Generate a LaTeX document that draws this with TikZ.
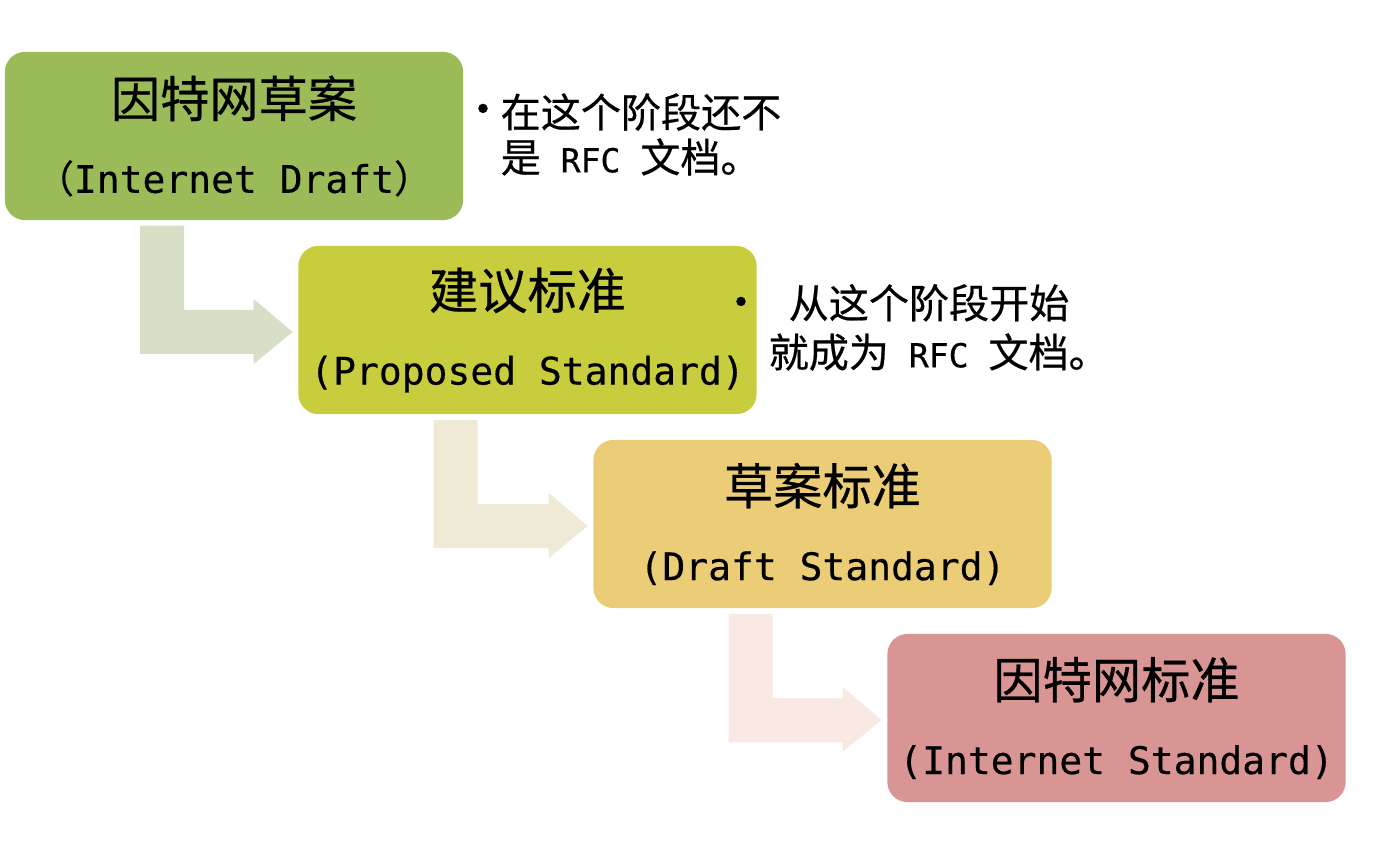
\documentclass[tikz,border=0pt]{standalone}
\usepackage{fontspec}
\setmainfont[FakeBold=0.4]{DejaVu Sans Mono}
\newfontfamily\cjk[FakeBold=0.5]{Noto Sans CJK SC}
\usetikzlibrary{positioning, calc}
\definecolor{draftgreen}{RGB}{155,187,89}
\definecolor{proposedlime}{RGB}{200,205,61}
\definecolor{dstdgold}{RGB}{235,205,120}
\definecolor{istdrose}{RGB}{217,149,148}
\definecolor{arrowgreen}{RGB}{215,224,198}
\definecolor{arrowgold}{RGB}{238,234,213}
\definecolor{arrowpink}{RGB}{249,233,229}
\newcommand{\rfcword}{{\normalfont\fontsize{9.4pt}{12pt}\selectfont\ RFC\ }}

\begin{document}
\begin{tikzpicture}[x=0.01cm, y=-0.01cm,
    stage/.style={rounded corners=0.2cm, minimum width=4.58cm, minimum height=1.68cm,
        align=center, inner sep=0pt, font=\fontsize{10.8pt}{21.5pt}\selectfont},
    note/.style={align=left, anchor=west, inner sep=0pt, font=\cjk\fontsize{11.4pt}{12.8pt}\selectfont},
    dot/.style={inner sep=0pt, font=\normalfont\fontsize{9pt}{9pt}\selectfont}]
    \useasboundingbox (0,0) rectangle (1385,852);

    % Stage boxes
    \node[stage, fill=draftgreen] (draft) at (234,136)
        {{\cjk\fontsize{14pt}{21.5pt}\selectfont 因特网草案}\\{\cjk （}Internet Draft{\cjk ）}};
    \node[stage, fill=proposedlime] (proposed) at (527.5,330)
        {{\cjk\fontsize{14pt}{21.5pt}\selectfont 建议标准}\\(Proposed Standard)};
    \node[stage, fill=dstdgold] (dstd) at (822.5,524)
        {{\cjk\fontsize{14pt}{21.5pt}\selectfont 草案标准}\\(Draft Standard)};
    \node[stage, fill=istdrose] (istd) at (1116.5,718)
        {{\cjk\fontsize{14pt}{21.5pt}\selectfont 因特网标准}\\(Internet Standard)};

    % Bent arrows between stages
    \foreach \from/\to/\col in {draft/proposed/arrowgreen, proposed/dstd/arrowgold, dstd/istd/arrowpink}
        \fill[\col] ($(\from.south west)+(136,5)$) -- ($(\from.south west)+(180,5)$)
            |- ($(\to.west)+(-44,-20)$) -- ($(\to.west)+(-44,-31)$) -- ($(\to.west)+(-5,2)$)
            -- ($(\to.west)+(-44,34)$) -- ($(\to.west)+(-44,24)$)
            -| ($(\from.south west)+(136,5)$) -- cycle;

    % Side notes
    \node[dot] (dotA) at (483,112) {•};
    \node[note] (noteA) at (500,134.5) {在这个阶段还不\\是\rfcword 文档。};
    \node[dot] (dotB) at (741,305) {•};
    \node[note, font=\cjk\fontsize{11.4pt}{14pt}\selectfont] (noteB) at (768,327.5)
        {\hspace*{0.2cm}从这个阶段开始\\就成为\rfcword 文档。};
\end{tikzpicture}
\end{document}
